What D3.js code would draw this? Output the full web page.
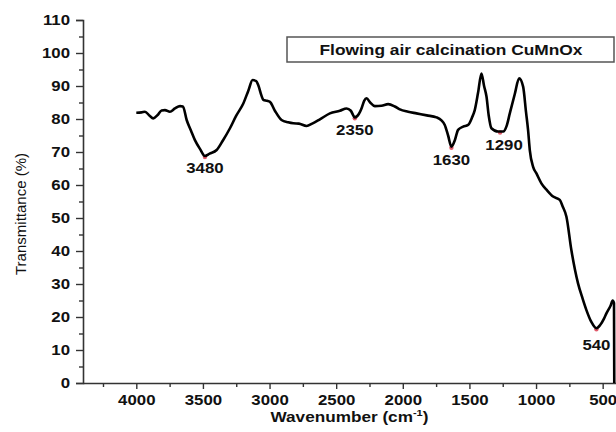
<!DOCTYPE html>
<html>
<head>
<meta charset="utf-8">
<script src="https://cdn.jsdelivr.net/npm/d3@7/dist/d3.min.js"></script>
<style>
  html, body { margin: 0; padding: 0; background: #fff; }
  svg { display: block; }
  text { font-family: "Liberation Sans", Arial, sans-serif; fill: #111; }
</style>
</head>
<body>
<svg id="chart" width="616" height="432"></svg>
<script>
// ---- data ----
const wavenumber = [4000,3960,3935,3900,3873,3840,3810,3785,3748,3710,3672,3650,3622,3590,3560,3520,3485,3450,3397,3350,3297,3250,3197,3160,3127,3100,3085,3060,3047,3020,2997,2960,2910,2860,2822,2780,2722,2680,2622,2547,2472,2422,2390,2360,2330,2310,2290,2272,2245,2210,2160,2110,2060,2022,1960,1897,1820,1747,1710,1685,1660,1635,1610,1585,1547,1510,1480,1460,1435,1410,1390,1372,1355,1335,1285,1247,1220,1197,1160,1127,1097,1075,1060,1047,1022,997,960,920,872,822,800,772,735,685,650,622,585,547,520,490,472,440,425,415,413];
const transmittance = [81.9,82.0,82.2,81.0,80.2,81.2,82.6,82.7,82.2,83.2,83.9,83.8,79.7,76.5,73.6,70.8,68.8,69.5,70.6,73.5,77.2,81.0,84.7,88.5,91.8,91.5,90.3,87.0,85.8,85.5,85.2,82.5,79.7,79.0,78.7,78.6,77.9,78.6,79.9,81.7,82.5,83.2,82.5,80.5,81.5,83.2,85.5,86.3,85.0,83.9,84.0,84.5,83.8,82.9,82.2,81.7,81.1,80.5,79.6,78.2,75.0,71.6,73.5,76.7,77.7,78.2,80.5,82.7,88.0,93.8,90.0,86.8,81.0,77.2,76.2,76.2,78.0,81.7,87.5,92.3,89.8,82.0,76.7,70.6,65.5,63.5,60.5,58.5,56.5,55.5,53.5,50.4,40.3,30.2,25.5,22.1,18.5,16.6,17.5,19.5,21.1,23.5,25.0,24.2,0];
const peakLabels = ["3480","2350","1630","1290","540"];
const peakPositions = [3485,2360,1635,1270,547];
const peakValues = [68.8,80.5,71.6,76.2,16.6];
const xTicks = [4000,3500,3000,2500,2000,1500,1000,500];
const xMinorTicks = [4250,3750,3250,2750,2250,1750,1250,750];
const yTicks = [0,10,20,30,40,50,60,70,80,90,100,110];
const yMinorTicks = [5,15,25,35,45,55,65,75,85,95,105];
const titleText = "Flowing air calcination CuMnOx";
const xLabel = "Wavenumber (cm";
const yLabel = "Transmittance (%)";

// ---- layout ----
const svg = d3.select("#chart");
const x = d3.scaleLinear().domain([4400, 400]).range([83, 616]);
const y = d3.scaleLinear().domain([0, 110]).range([383, 20]);
const axisColor = "#333";
const STRETCH = 1.2; // reference text is horizontally widened

function widen(sel) {
  sel.each(function () {
    const w = this.getComputedTextLength();
    d3.select(this).attr("textLength", w * STRETCH).attr("lengthAdjust", "spacingAndGlyphs");
  });
}

// title box
svg.append("rect")
  .attr("x", 287).attr("y", 37).attr("width", 327).attr("height", 25)
  .attr("fill", "none").attr("stroke", "#555").attr("stroke-width", 1.5);
svg.append("text")
  .attr("x", 451).attr("y", 54.5).attr("text-anchor", "middle")
  .attr("font-size", 14).attr("font-weight", "bold")
  .attr("textLength", 263).attr("lengthAdjust", "spacingAndGlyphs")
  .text(titleText);

// axes
const gx = svg.append("g").attr("transform", "translate(0,383)")
  .call(d3.axisBottom(x).tickValues(xTicks).tickSize(6).tickPadding(6).tickFormat(d3.format("d")));
svg.append("g").attr("transform", "translate(0,383)")
  .call(d3.axisBottom(x).tickValues(xMinorTicks).tickSize(4).tickFormat(""))
  .call(g => g.select(".domain").remove());
const gy = svg.append("g").attr("transform", "translate(83,0)")
  .call(d3.axisLeft(y).tickValues(yTicks).tickSize(7).tickPadding(6).tickFormat(d3.format("d")));
svg.append("g").attr("transform", "translate(83,0)")
  .call(d3.axisLeft(y).tickValues(yMinorTicks).tickSize(4).tickFormat(""))
  .call(g => g.select(".domain").remove());

svg.selectAll(".domain").attr("stroke", axisColor).attr("stroke-width", 1.6);
svg.selectAll(".tick line").attr("stroke", axisColor).attr("stroke-width", 1.4);
svg.selectAll(".tick text")
  .attr("font-family", "'Liberation Sans', Arial, sans-serif")
  .attr("font-size", 14).attr("font-weight", "bold").attr("fill", "#111")
  .call(widen);
gx.selectAll(".domain").attr("d", "M83,0.5H616");

// axis titles
const xt = svg.append("text")
  .attr("x", 349.5).attr("y", 422).attr("text-anchor", "middle")
  .attr("font-size", 14).attr("font-weight", "bold")
  .attr("textLength", 158).attr("lengthAdjust", "spacingAndGlyphs");
xt.append("tspan").text(xLabel);
xt.append("tspan").attr("font-size", 9).attr("dy", -6).text("-1");
xt.append("tspan").attr("dy", 6).text(")");

svg.append("text")
  .attr("transform", "translate(26,214) rotate(-90)")
  .attr("text-anchor", "middle").attr("font-size", 15).attr("fill", "#222")
  .text(yLabel);

// peak markers (small red marks under the curve)
svg.selectAll("circle.pk").data(peakPositions).enter().append("circle")
  .attr("class", "pk")
  .attr("cx", d => x(d)).attr("cy", (d, i) => y(peakValues[i]) + 1)
  .attr("r", 2.2).attr("fill", "#e05a6a");

// curve
const pts = wavenumber.map((w, i) => [w, transmittance[i]]);
svg.append("path").datum(pts)
  .attr("fill", "none").attr("stroke", "#000").attr("stroke-width", 2.6)
  .attr("stroke-linejoin", "round")
  .attr("d", d3.line().x(d => x(d[0])).y(d => y(d[1])).curve(d3.curveMonotoneX));

// peak labels
const labelOffsetY = [168, 130, 160, 145, 345];
svg.selectAll("text.pl").data(peakLabels).enter().append("text")
  .attr("class", "pl")
  .attr("x", (d, i) => x(peakPositions[i]) + (i === 3 ? 4 : 0))
  .attr("y", (d, i) => labelOffsetY[i] + 5)
  .attr("text-anchor", "middle").attr("font-size", 14).attr("font-weight", "bold")
  .text(d => d)
  .call(widen);
</script>
</body>
</html>
